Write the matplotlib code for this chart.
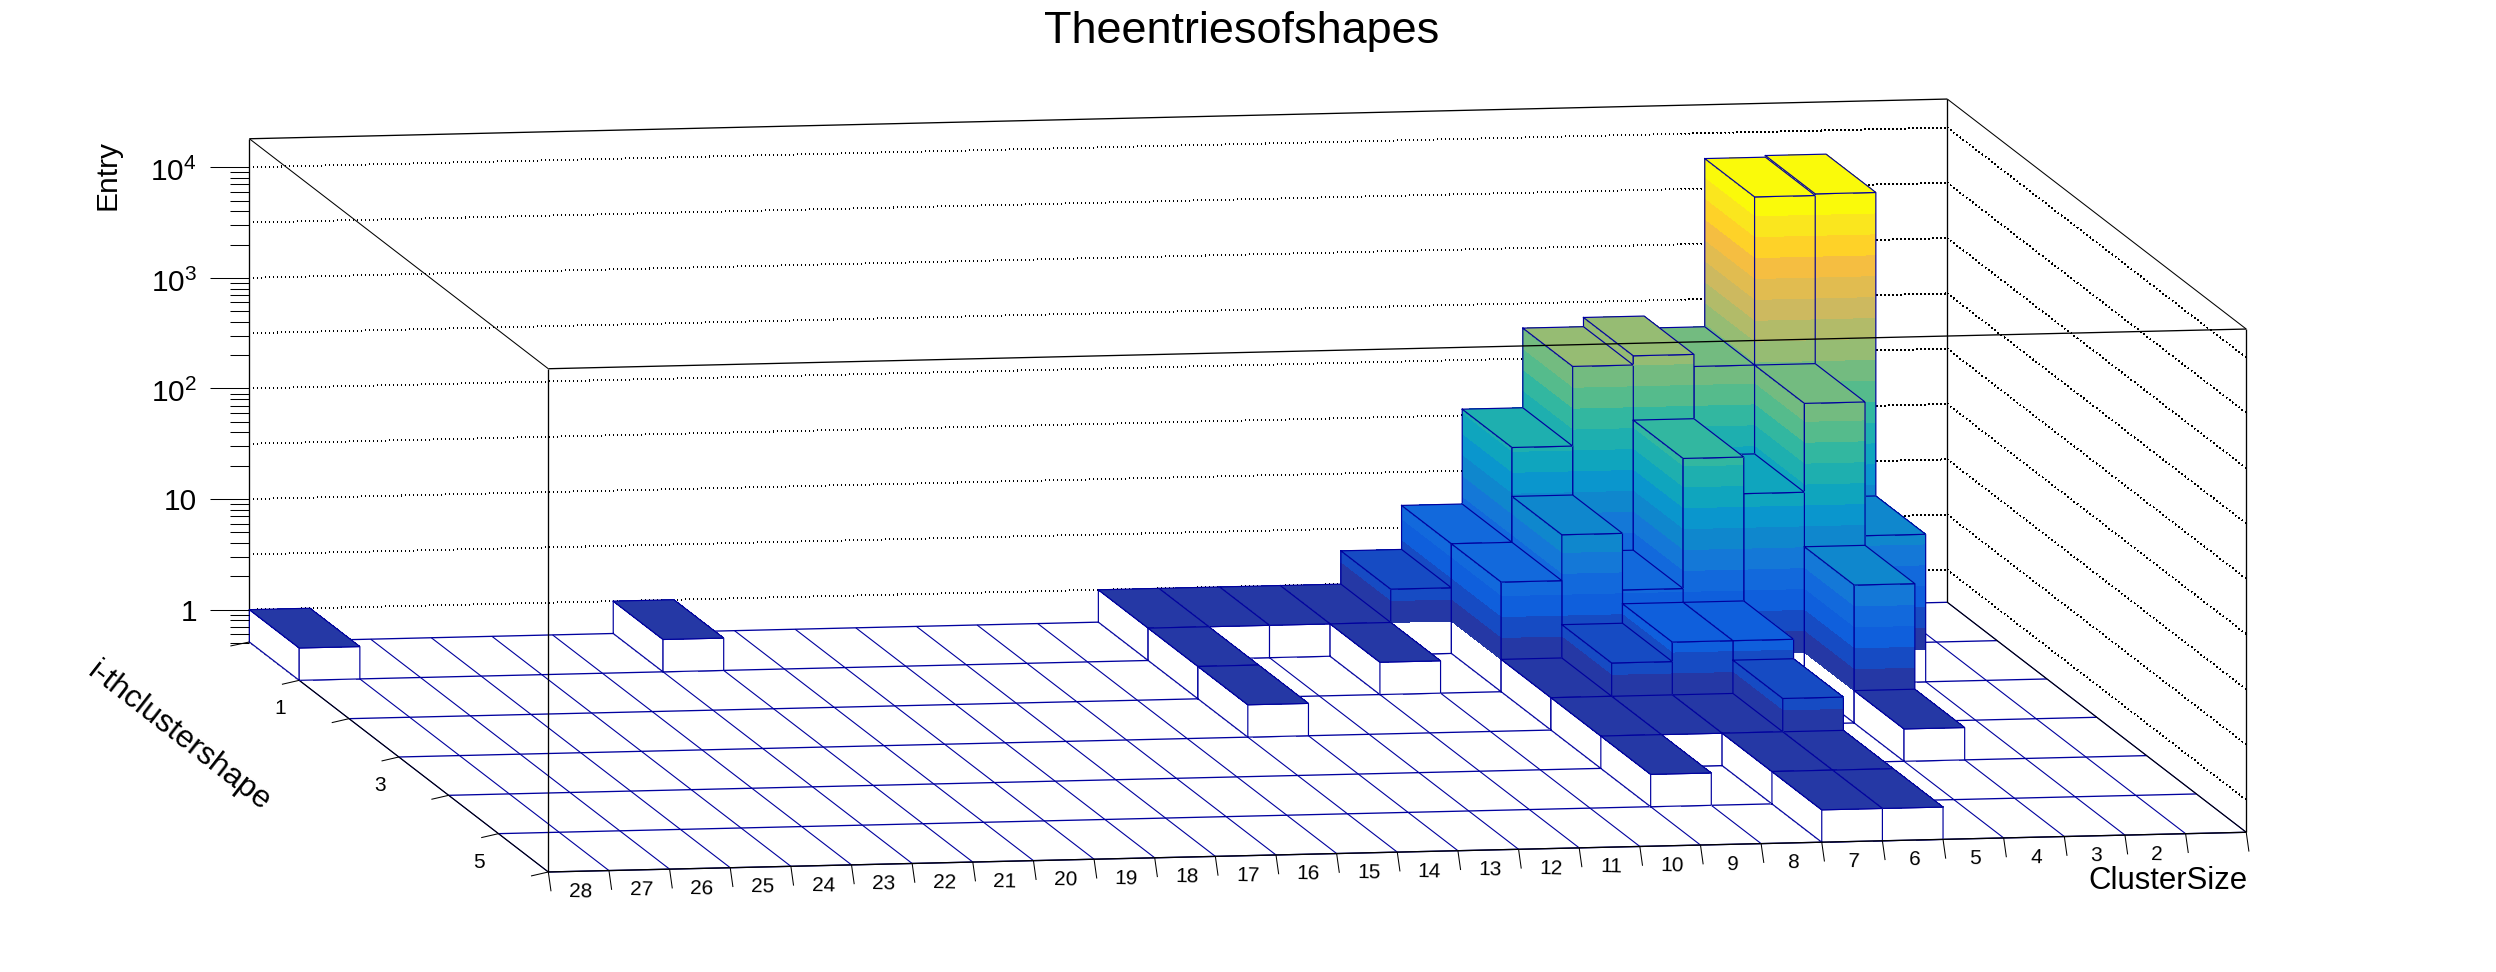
import numpy as np
import matplotlib
matplotlib.use('Agg')
import matplotlib.pyplot as plt

plt.rcParams['font.family'] = ['Liberation Sans', 'DejaVu Sans']
plt.rcParams['mathtext.fontset'] = 'custom'
plt.rcParams['mathtext.rm'] = 'Liberation Sans'
plt.rcParams['mathtext.default'] = 'regular'

# bins that have entries
cluster_size = [28, 22, 14, 13, 12, 11, 10, 9, 8, 7, 6, 5, 4, 3,
                14, 11, 9, 8, 7, 6, 5, 4, 3,
                14, 9, 8, 7, 6, 4,
                9, 8, 7, 6, 4,
                9, 7, 6,
                7, 6]
shape_index = [0, 0, 0, 0, 0, 0, 0, 0, 0, 0, 0, 0, 0, 0,
               1, 1, 1, 1, 1, 1, 1, 1, 1,
               2, 2, 2, 2, 2, 2,
               3, 3, 3, 3, 3,
               4, 4, 4,
               5, 5]
entries = [1, 1, 1, 1, 1, 1, 2, 5, 36, 189, 229, 178, 5900, 6100,
           1, 1, 5, 13, 4, 60, 28, 178, 11,
           1, 1, 2, 3, 3, 9,
           1, 1, 1, 2, 1,
           1, 1, 1,
           1, 1]

x_labels = list(range(28, 1, -1))
y_labels = [1, 3, 5]
z_major = [1, 10, 100, 1000, 10000]
z_major_text = ['1', '10', r'$10^{2}$', r'$10^{3}$', r'$10^{4}$']

band_colors = [(37, 56, 165), (22, 75, 195), (15, 95, 220), (18, 105, 220), (20, 120, 215),
               (15, 135, 205), (10, 150, 205), (15, 165, 190), (30, 175, 175), (50, 183, 160),
               (85, 187, 140), (115, 187, 128), (150, 188, 115), (178, 187, 105), (205, 185, 95),
               (225, 188, 80), (245, 190, 65), (254, 210, 40), (250, 230, 30), (250, 250, 10)]
band_colors = [(r / 255, g / 255, b / 255) for r, g, b in band_colors]

n_x = 28
n_y = 6
z_min = 0.51
z_max = 18100
band_step = 0.189
blue = (0, 0, 0.62)
depth = 10


def next_z():
    # painter's order, patches and lines have to share one running zorder
    global depth
    depth += 1
    return depth


def proj(u, v, z):
    # u runs along the cluster size axis from the left, v from the back wall to the front
    h = (np.log10(z) - np.log10(z_min)) * 110.6
    return 249.4 + 60.64 * u + 49.82 * v, 642 - 1.418 * u + 38.33 * v - h


def line(a, b, **kw):
    ax.plot([a[0], b[0]], [a[1], b[1]], solid_capstyle='butt', zorder=next_z(), **kw)


def face(pts, color):
    ax.fill([p[0] for p in pts], [p[1] for p in pts], color=color, lw=0, antialiased=False,
            zorder=next_z())


def outline(pts):
    xs = [p[0] for p in pts] + [pts[0][0]]
    ys = [p[1] for p in pts] + [pts[0][1]]
    ax.plot(xs, ys, color=blue, lw=0.85, solid_joinstyle='miter', zorder=next_z())


def band_faces(a, b, top):
    # a and b are the (u, v) ends of one side of a bar
    # bands go from the top down, each one reaching z=1, so no seams are left between them
    face([proj(*a, z_min), proj(*b, z_min), proj(*b, 1), proj(*a, 1)], 'white')
    k = int(np.ceil(np.log10(top) / band_step)) - 1
    while k >= 0:
        hi = min(10 ** ((k + 1) * band_step), top)
        face([proj(*a, 1), proj(*b, 1), proj(*b, hi), proj(*a, hi)], band_colors[min(k, 19)])
        k -= 1
    outline([proj(*a, z_min), proj(*b, z_min), proj(*b, top), proj(*a, top)])


fig = plt.figure(figsize=(24.96, 9.72), dpi=100)
ax = fig.add_axes([0, 0, 1, 1])
ax.set_xlim(0, 2496)
ax.set_ylim(972, 0)
ax.axis('off')

black = dict(color='black', lw=0.95)
thin = dict(color='black', lw=0.75)
dots = dict(color='black', lw=0.72, linestyle=(0, (1, 3.4)), antialiased=False)

# dotted grid on the two back walls
for k in range(0, 9):
    z = 10 ** (k * 0.5)
    line(proj(0, 0, z), proj(n_x, 0, z), **dots)
    line(proj(n_x, 0, z), proj(n_x, n_y, z), **dots)

# floor grid
for u in range(n_x + 1):
    line(proj(u, 0, z_min), proj(u, n_y, z_min), color=blue, lw=0.8)
for v in range(n_y + 1):
    line(proj(0, v, z_min), proj(n_x, v, z_min), color=blue, lw=0.95)

# back of the box
line(proj(0, 0, z_min), proj(0, 0, z_max), **black)
line(proj(n_x, 0, z_min), proj(n_x, 0, z_max), **black)
line(proj(0, 0, z_max), proj(n_x, 0, z_max), **black)
line(proj(0, 0, z_min), proj(0, n_y, z_min), **thin)
line(proj(n_x, 0, z_min), proj(n_x, n_y, z_min), **thin)

# bars, back row first and right to left inside a row
order = sorted(range(len(entries)), key=lambda n: (shape_index[n], cluster_size[n]))
for n in order:
    u = 28 - cluster_size[n]
    j = shape_index[n]
    val = entries[n]
    band_faces((u, j), (u, j + 1), val)
    band_faces((u, j + 1), (u + 1, j + 1), val)
    k = int(np.log10(val) / band_step)
    top = [proj(u, j, val), proj(u + 1, j, val), proj(u + 1, j + 1, val), proj(u, j + 1, val)]
    face(top, band_colors[min(k, 19)])
    outline(top)

# front of the box
line(proj(0, n_y, z_min), proj(0, n_y, z_max), **black)
line(proj(n_x, n_y, z_min), proj(n_x, n_y, z_max), **black)
line(proj(0, n_y, z_max), proj(n_x, n_y, z_max), **black)
line(proj(0, 0, z_max), proj(0, n_y, z_max), **thin)
line(proj(n_x, 0, z_max), proj(n_x, n_y, z_max), **thin)
line(proj(0, n_y, z_min), proj(n_x, n_y, z_min), **black)

# z axis
for z, txt in zip(z_major, z_major_text):
    x0, y0 = proj(0, 0, z)
    line((x0 - 39, y0), (x0, y0), **thin)
    ax.text(197, y0 + (14 if '^' in txt else 11), txt, fontsize=21.5, ha='right', va='baseline')
for dec in [0.1, 1, 10, 100, 1000]:
    for m in range(2, 10):
        z = m * dec
        if z < z_min - 0.02:
            continue
        x0, y0 = proj(0, 0, z)
        line((x0 - 19, y0), (x0, y0), **thin)
x0, y0 = proj(0, 0, z_min)
line((x0 - 19, y0 + 4), (x0, y0), **thin)

# cluster size axis
for u in range(n_x + 1):
    x0, y0 = proj(u, n_y, z_min)
    line((x0, y0), (x0 + 2.7, y0 + 19.3), **thin)
for lab in x_labels:
    x0, y0 = proj(28 - lab + 0.5, n_y, z_min)
    ax.text(x0 + 2, y0 + 20, str(lab), fontsize=15, ha='center', va='center', rotation=-1.3)

# shape axis
for v in range(1, n_y + 1):
    x0, y0 = proj(0, v, z_min)
    line((x0, y0), (x0 - 17.3, y0 + 4), **thin)
for lab in y_labels:
    x0, y0 = proj(0, lab + 0.5, z_min)
    ax.text(x0 - 44, y0 + 9.5, str(lab), fontsize=15, ha='center', va='center')

ax.text(1242, 31, 'Theentriesofshapes', fontsize=32.4, ha='center', va='center')
ax.text(108, 140, 'Entry', fontsize=21.5, rotation=90, ha='center', va='top')
ax.text(2248, 881, 'ClusterSize', fontsize=22.4, ha='right', va='center')
ax.text(179, 737, 'i-thclustershape', fontsize=22.8, rotation=-38, ha='center', va='center',
        rotation_mode='anchor')

plt.savefig('out.png', dpi=100)
